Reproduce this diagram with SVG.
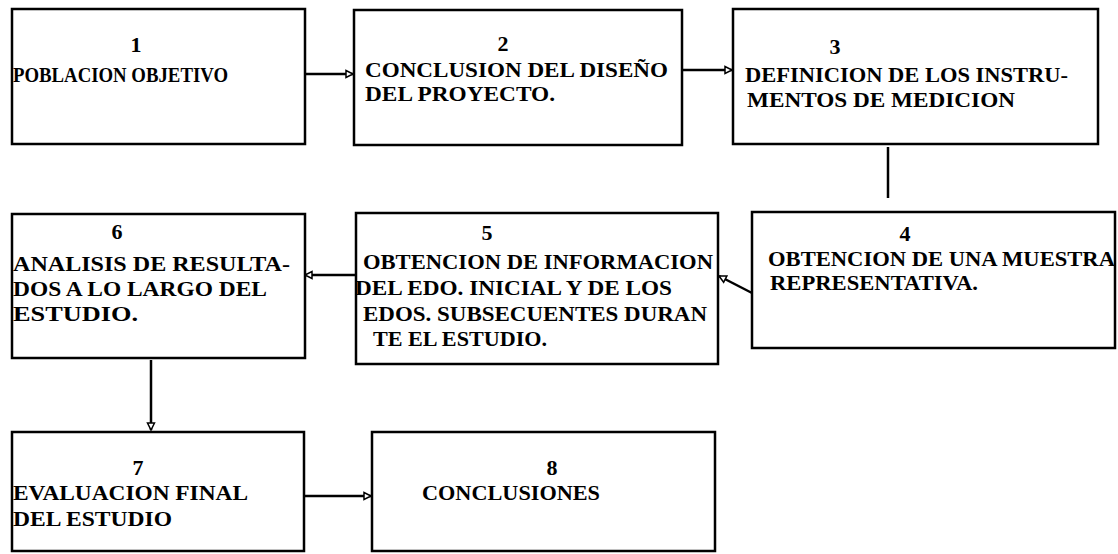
<svg xmlns="http://www.w3.org/2000/svg" width="1118" height="554" viewBox="0 0 1118 554">
<style>
.box{fill:#fff;stroke:#000;stroke-width:2.5}
.t{font-family:"Liberation Serif","Times New Roman",serif;font-weight:bold;font-size:22px;fill:#000}
.n{text-anchor:middle}
.c{fill:none;stroke:#000;stroke-width:2.5}
</style>
<defs>
<marker id="ah" markerUnits="userSpaceOnUse" markerWidth="10" markerHeight="10" refX="8" refY="5" orient="auto">
<path d="M1,1.5 L8,5 L1,8.5 Z" fill="#fff" stroke="#000" stroke-width="1.5"/>
</marker>
</defs>
<rect width="1118" height="554" fill="#fff"/>
<g id="connectors">
<line class="c" x1="305" y1="74" x2="353" y2="74" marker-end="url(#ah)"/>
<line class="c" x1="682" y1="70" x2="732" y2="70" marker-end="url(#ah)"/>
<line class="c" x1="888" y1="147" x2="888" y2="198"/>
<line class="c" x1="752" y1="293" x2="719" y2="276" marker-end="url(#ah)"/>
<line class="c" x1="356" y1="275" x2="305" y2="275" marker-end="url(#ah)"/>
<line class="c" x1="151" y1="360" x2="151" y2="430" marker-end="url(#ah)"/>
<line class="c" x1="304" y1="496" x2="371" y2="496" marker-end="url(#ah)"/>
</g>
<g id="node1">
<rect class="box" x="12" y="9" width="293" height="135"/>
<text class="t n" x="136" y="52">1</text>
<text class="t" x="13" y="82" textLength="215" lengthAdjust="spacingAndGlyphs">POBLACION OBJETIVO</text>
</g>
<g id="node2">
<rect class="box" x="354" y="10" width="328" height="135"/>
<text class="t n" x="503" y="51">2</text>
<text class="t" x="365" y="77" textLength="303" lengthAdjust="spacingAndGlyphs">CONCLUSION DEL DISEÑO</text>
<text class="t" x="365" y="101" textLength="190" lengthAdjust="spacingAndGlyphs">DEL PROYECTO.</text>
</g>
<g id="node3">
<rect class="box" x="733" y="9" width="365" height="135"/>
<text class="t n" x="835" y="54">3</text>
<text class="t" x="745" y="82" textLength="323" lengthAdjust="spacingAndGlyphs">DEFINICION DE LOS INSTRU-</text>
<text class="t" x="747" y="107" textLength="268" lengthAdjust="spacingAndGlyphs">MENTOS DE MEDICION</text>
</g>
<g id="node4">
<rect class="box" x="752" y="212" width="363" height="136"/>
<text class="t n" x="905" y="241">4</text>
<text class="t" x="768" y="266" textLength="347" lengthAdjust="spacingAndGlyphs">OBTENCION DE UNA MUESTRA</text>
<text class="t" x="770" y="290" textLength="208" lengthAdjust="spacingAndGlyphs">REPRESENTATIVA.</text>
</g>
<g id="node5">
<rect class="box" x="356" y="213" width="362" height="151"/>
<text class="t n" x="487" y="240">5</text>
<text class="t" x="363" y="269" textLength="350" lengthAdjust="spacingAndGlyphs">OBTENCION DE INFORMACION</text>
<text class="t" x="355" y="295" textLength="317" lengthAdjust="spacingAndGlyphs">DEL EDO. INICIAL Y DE LOS</text>
<text class="t" x="363" y="321" textLength="344" lengthAdjust="spacingAndGlyphs">EDOS. SUBSECUENTES DURAN</text>
<text class="t" x="373" y="346" textLength="174" lengthAdjust="spacingAndGlyphs">TE EL ESTUDIO.</text>
</g>
<g id="node6">
<rect class="box" x="12" y="214" width="293" height="144"/>
<text class="t n" x="117" y="239">6</text>
<text class="t" x="13" y="271" textLength="277" lengthAdjust="spacingAndGlyphs">ANALISIS DE RESULTA-</text>
<text class="t" x="13" y="296" textLength="254" lengthAdjust="spacingAndGlyphs">DOS A LO LARGO DEL</text>
<text class="t" x="13" y="321" textLength="125" lengthAdjust="spacingAndGlyphs">ESTUDIO.</text>
</g>
<g id="node7">
<rect class="box" x="12" y="432" width="292" height="119"/>
<text class="t n" x="138" y="475">7</text>
<text class="t" x="13" y="500" textLength="235" lengthAdjust="spacingAndGlyphs">EVALUACION FINAL</text>
<text class="t" x="13" y="526" textLength="159" lengthAdjust="spacingAndGlyphs">DEL ESTUDIO</text>
</g>
<g id="node8">
<rect class="box" x="372" y="432" width="343" height="119"/>
<text class="t n" x="552" y="475">8</text>
<text class="t" x="422" y="500" textLength="178" lengthAdjust="spacingAndGlyphs">CONCLUSIONES</text>
</g>
</svg>
